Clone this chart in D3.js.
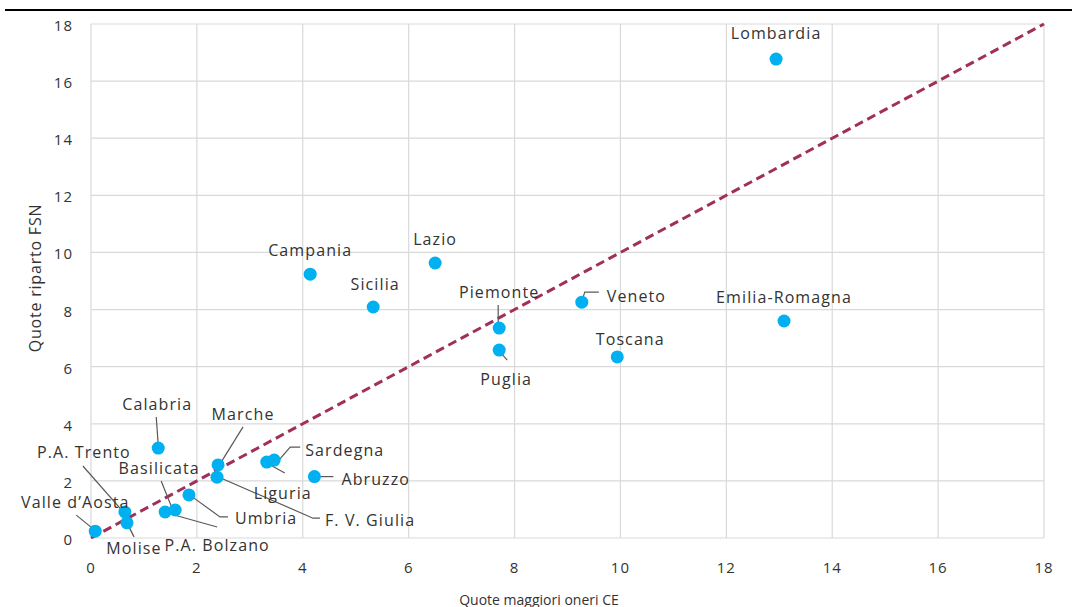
<!DOCTYPE html>
<html>
<head>
<meta charset="utf-8">
<script src="https://cdn.jsdelivr.net/npm/d3@7"></script>
<style>
  body { margin: 0; background: #fff; }
  text { font-family: "Open Sans", sans-serif; fill: #333; }
</style>
</head>
<body>
<svg width="1072" height="607"></svg>
<script>
// regions and their shares
const regions = ["Lombardia", "Emilia-Romagna", "Veneto", "Toscana", "Lazio", "Campania", "Sicilia",
  "Piemonte", "Puglia", "Calabria", "Marche", "F. V. Giulia", "Sardegna", "Liguria", "Abruzzo",
  "Umbria", "Basilicata", "P.A. Bolzano", "P.A. Trento", "Molise", "Valle d\u2019Aosta"];
const quoteCE = [12.94, 13.09, 9.27, 9.94, 6.50, 4.14, 5.33,
  7.71, 7.71, 1.27, 2.40, 2.38, 3.46, 3.32, 4.22,
  1.85, 1.59, 1.40, 0.64, 0.68, 0.08];
const quoteFSN = [16.77, 7.60, 8.26, 6.34, 9.63, 9.24, 8.09,
  7.35, 6.58, 3.15, 2.56, 2.13, 2.73, 2.66, 2.15,
  1.51, 0.98, 0.91, 0.91, 0.53, 0.24];
const ticks = [0, 2, 4, 6, 8, 10, 12, 14, 16, 18];

const data = regions.map((name, i) => ({ name, x: quoteCE[i], y: quoteFSN[i] }));

// label placement: text offset from the point and leader line (pixels)
const labelPos = {
  "Lombardia": { dx: 0, dy: -27 },
  "Emilia-Romagna": { dx: 0, dy: -25 },
  "Veneto": { dx: 25, dy: -7, anchor: "start", lead: [[0, -1], [3, -10], [17, -10]] },
  "Toscana": { dx: 13, dy: -19 },
  "Lazio": { dx: 0, dy: -25 },
  "Campania": { dx: 0, dy: -25 },
  "Sicilia": { dx: 2, dy: -24 },
  "Piemonte": { dx: 0, dy: -37, lead: [[-1, -23], [-1, 1]] },
  "Puglia": { dx: 7, dy: 28, lead: [[1, 2], [8, 10]] },
  "Calabria": { dx: -1, dy: -45, lead: [[-2, -31], [0, -3]] },
  "Marche": { dx: 25, dy: -52, lead: [[25, -38], [2, -1]] },
  "P.A. Trento": { dx: -41, dy: -61, lead: [[-42, -46], [2, 4]] },
  "Basilicata": { dx: -16, dy: -43, lead: [[-14, -29], [-2, 1]] },
  "Sardegna": { dx: 31, dy: -11, anchor: "start", lead: [[3, 2], [16, -13], [26, -13]] },
  "Liguria": { dx: 16, dy: 30, lead: [[0, 1], [18, 11]] },
  "Abruzzo": { dx: 27, dy: 1, anchor: "start", lead: [[4, 0], [19, 0]] },
  "Umbria": { dx: 46, dy: 22, anchor: "start", lead: [[2, 1], [31, 22], [39, 22]] },
  "F. V. Giulia": { dx: 108, dy: 42, anchor: "start", lead: [[2, 0], [96, 41], [103, 41]] },
  "P.A. Bolzano": { dx: 52, dy: 32, lead: [[2, 1], [52, 15]] },
  "Valle d\u2019Aosta": { dx: -20, dy: -30, lead: [[-19, -16], [-3, -3]] },
  "Molise": { dx: 7, dy: 24, lead: [[0, 0], [7, 14]] }
};

const svg = d3.select("svg");

const x = d3.scaleLinear().domain([0, 18]).range([91, 1044]);
const y = d3.scaleLinear().domain([0, 18]).range([538, 24]);

// top rule
svg.append("line")
  .attr("x1", 5).attr("x2", 1072)
  .attr("y1", 10).attr("y2", 10)
  .attr("stroke", "#000").attr("stroke-width", 2);

// gridlines
svg.append("g").selectAll("line").data(ticks).enter().append("line")
  .attr("x1", d => x(d)).attr("x2", d => x(d))
  .attr("y1", y(0)).attr("y2", y(18))
  .attr("stroke", "#d9d9d9").attr("stroke-width", 1.2);
svg.append("g").selectAll("line").data(ticks).enter().append("line")
  .attr("x1", x(0)).attr("x2", x(18))
  .attr("y1", d => y(d)).attr("y2", d => y(d))
  .attr("stroke", "#d9d9d9").attr("stroke-width", 1.2);

// tick labels
svg.append("g").selectAll("text").data(ticks).enter().append("text")
  .attr("x", d => x(d)).attr("y", 567)
  .attr("text-anchor", "middle").attr("dominant-baseline", "central")
  .attr("font-size", 15).attr("letter-spacing", 1)
  .text(d => d);
svg.append("g").selectAll("text").data(ticks).enter().append("text")
  .attr("x", 73).attr("y", d => y(d) + 1)
  .attr("text-anchor", "end").attr("dominant-baseline", "central")
  .attr("font-size", 15).attr("letter-spacing", 1)
  .text(d => d);

// axis titles
svg.append("text")
  .attr("x", 539).attr("y", 599)
  .attr("text-anchor", "middle").attr("dominant-baseline", "central")
  .attr("font-size", 14)
  .text("Quote maggiori oneri CE");
svg.append("text")
  .attr("transform", "translate(35,278) rotate(-90)")
  .attr("text-anchor", "middle").attr("dominant-baseline", "central")
  .attr("font-size", 16).attr("letter-spacing", 0.8)
  .text("Quote riparto FSN");

// bisector
svg.append("line")
  .attr("x1", x(0)).attr("y1", y(0))
  .attr("x2", x(18)).attr("y2", y(18))
  .attr("stroke", "#a0305a").attr("stroke-width", 3)
  .attr("stroke-dasharray", "9,5");

// leader lines
const lines = svg.append("g");
data.forEach(d => {
  const p = labelPos[d.name];
  if (!p.lead) return;
  lines.append("path")
    .attr("d", d3.line()(p.lead.map(o => [x(d.x) + o[0], y(d.y) + o[1]])))
    .attr("fill", "none").attr("stroke", "#595959").attr("stroke-width", 1.2);
});

// points
svg.append("g").selectAll("circle").data(data).enter().append("circle")
  .attr("cx", d => x(d.x)).attr("cy", d => y(d.y))
  .attr("r", 6.5).attr("fill", "#00b0f0");

// labels
svg.append("g").selectAll("text").data(data).enter().append("text")
  .attr("x", d => x(d.x) + labelPos[d.name].dx)
  .attr("y", d => y(d.y) + labelPos[d.name].dy + 1)
  .attr("text-anchor", d => labelPos[d.name].anchor || "middle")
  .attr("dominant-baseline", "central")
  .attr("font-size", 16).attr("letter-spacing", 1.1)
  .text(d => d.name);
</script>
</body>
</html>
